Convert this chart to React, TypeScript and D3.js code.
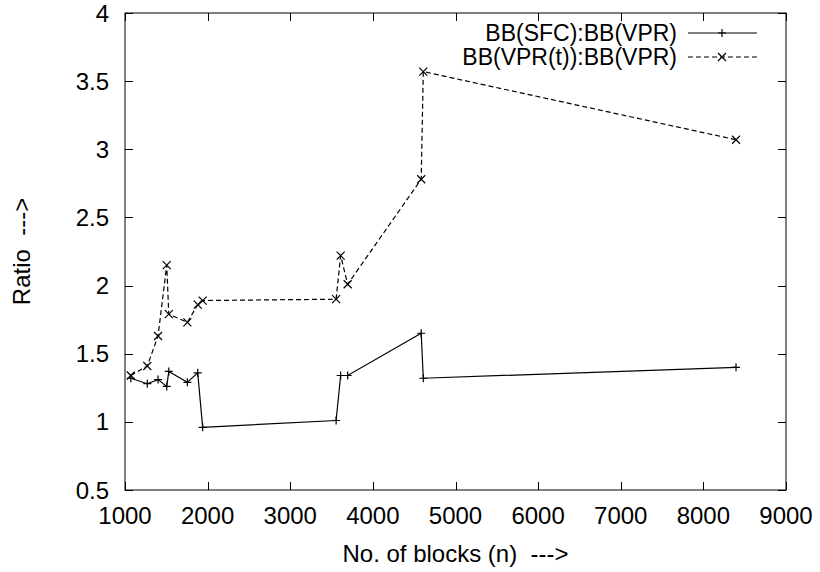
import React, { useRef, useEffect } from 'react';
import * as d3 from 'd3';

// block counts (x) shared by both series
const blocks = [1070, 1270, 1400, 1505, 1530, 1755, 1880, 1940, 3555, 3610, 3695, 4585, 4610, 8395];
const sfcRatio = [1.32, 1.28, 1.31, 1.26, 1.37, 1.29, 1.36, 0.96, 1.01, 1.34, 1.34, 1.65, 1.32, 1.40];
const vprtRatio = [1.34, 1.41, 1.63, 2.15, 1.79, 1.73, 1.86, 1.89, 1.90, 2.22, 2.01, 2.78, 3.57, 3.07];

const xTicks = [1000, 2000, 3000, 4000, 5000, 6000, 7000, 8000, 9000];
const yTicks = [0.5, 1, 1.5, 2, 2.5, 3, 3.5, 4];
const seriesNames = ['BB(SFC):BB(VPR)', 'BB(VPR(t)):BB(VPR)'];

const App = () => {
  const svgRef = useRef(null);

  useEffect(() => {
    document.body.style.margin = '0';

    const W = 820;
    const H = 572;
    const margin = { top: 13, right: 34, bottom: 82, left: 125 };
    const width = W - margin.left - margin.right;
    const height = H - margin.top - margin.bottom;
    const font = 'Liberation Sans, Arial, Helvetica, sans-serif';

    const svg = d3.select(svgRef.current)
      .attr('width', W)
      .attr('height', H)
      .style('display', 'block')
      .style('background', 'white');

    svg.selectAll('*').remove();

    const x = d3.scaleLinear().domain([1000, 9000]).range([0, width]);
    const y = d3.scaleLinear().domain([0.5, 4]).range([height, 0]);

    const g = svg.append('g')
      .attr('transform', `translate(${margin.left}, ${margin.top})`);

    const tick = 8;

    // frame
    g.append('rect')
      .attr('width', width)
      .attr('height', height)
      .attr('fill', 'none')
      .attr('stroke', 'black')
      .attr('stroke-width', 1);

    // x ticks (mirrored, inward)
    xTicks.forEach(t => {
      const px = Math.round(x(t)) + 0.5;
      g.append('line').attr('x1', px).attr('x2', px).attr('y1', height).attr('y2', height - tick).attr('stroke', 'black');
      g.append('line').attr('x1', px).attr('x2', px).attr('y1', 0).attr('y2', tick).attr('stroke', 'black');
      g.append('text')
        .attr('x', x(t))
        .attr('y', height + 34)
        .attr('text-anchor', 'middle')
        .attr('font-family', font)
        .attr('font-size', 24)
        .text(t);
    });

    // y ticks
    yTicks.forEach(t => {
      const py = Math.round(y(t)) + 0.5;
      g.append('line').attr('x1', 0).attr('x2', tick).attr('y1', py).attr('y2', py).attr('stroke', 'black');
      g.append('line').attr('x1', width).attr('x2', width - tick).attr('y1', py).attr('y2', py).attr('stroke', 'black');
      g.append('text')
        .attr('x', -16)
        .attr('y', y(t))
        .attr('dy', '0.36em')
        .attr('text-anchor', 'end')
        .attr('font-family', font)
        .attr('font-size', 24)
        .text(t);
    });

    const line = d3.line()
      .x(d => x(d[0]))
      .y(d => y(d[1]));

    const sfc = blocks.map((b, i) => [b, sfcRatio[i]]);
    const vprt = blocks.map((b, i) => [b, vprtRatio[i]]);

    g.append('path')
      .datum(sfc)
      .attr('d', line)
      .attr('fill', 'none')
      .attr('stroke', 'black')
      .attr('stroke-width', 1.2);

    g.append('path')
      .datum(vprt)
      .attr('d', line)
      .attr('fill', 'none')
      .attr('stroke', 'black')
      .attr('stroke-width', 1.2)
      .attr('stroke-dasharray', '5,3');

    const plus = (sel, cx, cy) => {
      const s = 4;
      sel.append('path')
        .attr('d', `M${cx - s},${cy}H${cx + s}M${cx},${cy - s}V${cy + s}`)
        .attr('stroke', 'black')
        .attr('stroke-width', 1.2);
    };
    const cross = (sel, cx, cy) => {
      const s = 4;
      sel.append('path')
        .attr('d', `M${cx - s},${cy - s}L${cx + s},${cy + s}M${cx - s},${cy + s}L${cx + s},${cy - s}`)
        .attr('stroke', 'black')
        .attr('stroke-width', 1.2);
    };

    sfc.forEach(d => plus(g, x(d[0]), y(d[1])));
    vprt.forEach(d => cross(g, x(d[0]), y(d[1])));

    // legend
    const legend = svg.append('g');
    const rows = [33, 57];
    seriesNames.forEach((name, i) => {
      legend.append('text')
        .attr('x', 677)
        .attr('y', rows[i])
        .attr('dy', '0.36em')
        .attr('text-anchor', 'end')
        .attr('font-family', font)
        .attr('font-size', 23)
        .text(name);
      legend.append('line')
        .attr('x1', 688)
        .attr('x2', 757)
        .attr('y1', rows[i])
        .attr('y2', rows[i])
        .attr('stroke', 'black')
        .attr('stroke-width', 1.2)
        .attr('stroke-dasharray', i === 1 ? '5,3' : null);
      if (i === 0) plus(legend, 722, rows[i]);
      else cross(legend, 722, rows[i]);
    });

    // axis labels
    svg.append('text')
      .attr('x', margin.left + width / 2)
      .attr('y', 562)
      .attr('text-anchor', 'middle')
      .attr('font-family', font)
      .attr('font-size', 24)
      .style('white-space', 'pre')
      .text('No. of blocks (n)  --->');

    svg.append('text')
      .attr('transform', `translate(30, ${margin.top + height / 2}) rotate(-90)`)
      .attr('text-anchor', 'middle')
      .attr('font-family', font)
      .attr('font-size', 24)
      .style('white-space', 'pre')
      .text('Ratio  --->');
  }, []);

  return <svg ref={svgRef}></svg>;
};

export default App;
